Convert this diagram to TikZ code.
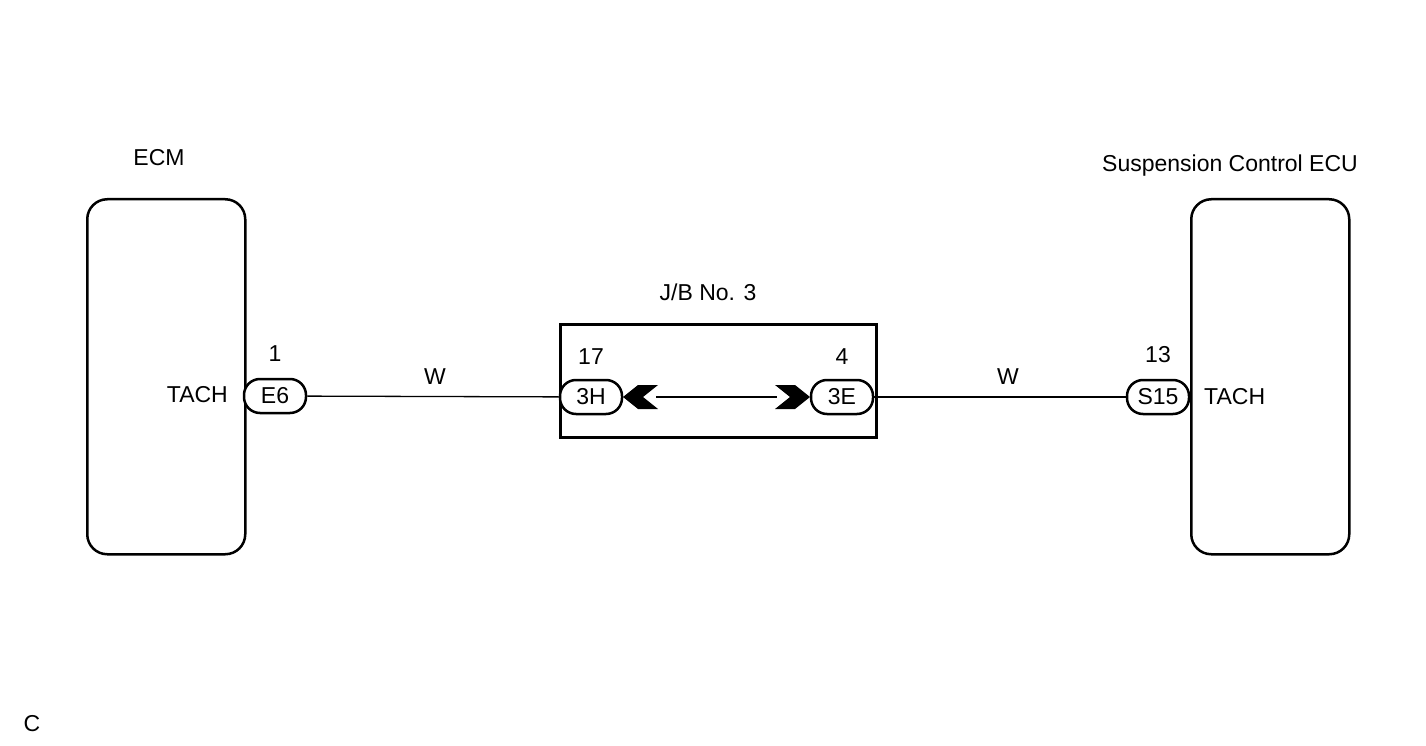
\documentclass[tikz,border=0pt]{standalone}
\usepackage{fontspec}
\setmainfont{Liberation Sans}
\begin{document}
\begin{tikzpicture}[x=1pt,y=-1pt,
  lbl/.style={font=\fontsize{23}{26}\selectfont,inner sep=0},
  box/.style={draw,line width=2.5pt,rounded corners=20pt},
  pill/.style={draw,line width=2.5pt,rounded corners=16pt,minimum width=62pt,minimum height=34pt,inner sep=0,font=\fontsize{23}{26}\selectfont},
  wire/.style={line width=1.3pt}]
\useasboundingbox (0,0) rectangle (1426,746);
\node[box,minimum width=158pt,minimum height=355pt,anchor=north west] (ecm) at (86,198) {};
\node[box,minimum width=158pt,minimum height=355pt,anchor=north west] (sus) at (1190,198) {};
\node[draw,line width=3pt,minimum width=316pt,minimum height=113pt,anchor=north west,inner sep=0] (jb) at (559,323) {};
\node[lbl] (tecm) at (159,158) {ECM};
\node[lbl] (tsus) at (1230,166) {Suspension Control ECU};
\node[lbl] (tjb) at (708,292) {J/B No. 3};
\node[pill,fill=white] (e6) at (275,396) {E6};
\node[pill,fill=white] (h3) at (591,397) {3H};
\node[pill,fill=white] (e3) at (842,397) {3E};
\node[pill,fill=white] (s15) at (1158,397) {S15};
\node[lbl] (n1) at (275,354) {1};
\node[lbl] (n17) at (591,357) {17};
\node[lbl] (n4) at (842,357) {4};
\node[lbl] (n13) at (1158,355) {13};
\node[lbl] (w1) at (435,377) {W};
\node[lbl] (w2) at (1008,377) {W};
\node[lbl,anchor=east] (ta1) at (228,395) {TACH};
\node[lbl,anchor=west] (ta2) at (1204,397) {TACH};
\node[lbl] (c) at (32,724) {C};
\coordinate (la) at (656,397);
\coordinate (ra) at (777,397);
\draw[wire] (e6) -- (h3);
\draw[wire] (e3) -- (s15);
\draw[wire] (la) -- (ra);
\fill (623,397) -- (638,385) -- (658,385) -- (643,397) -- (658,409) -- (638,409) -- cycle;
\fill (810,397) -- (795,385) -- (775,385) -- (790,397) -- (775,409) -- (795,409) -- cycle;
\end{tikzpicture}
\end{document}
